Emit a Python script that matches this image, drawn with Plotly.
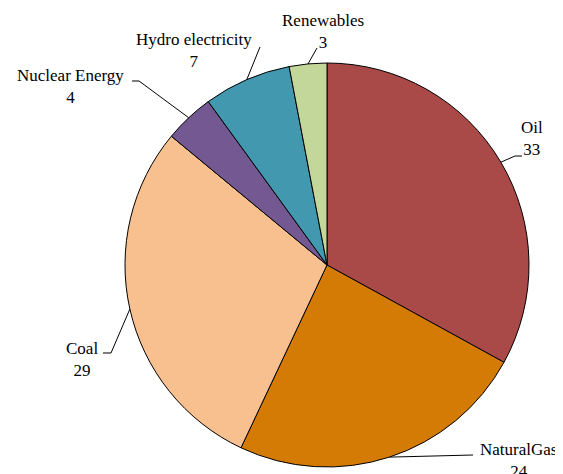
import math
import plotly.graph_objects as go

categories = ["Oil", "Natural Gas", "Coal", "Nuclear Energy", "Hydro electricity", "Renewables"]
values = [33, 24, 29, 4, 7, 3]
label_texts = ["Oil", "NaturalGas", "Coal", "Nuclear Energy", "Hydro electricity", "Renewables"]
colors = ["#A94A48", "#D47B05", "#F9C08F", "#735891", "#4298AF", "#C4D79B"]

OFF = 8                      # page body margin in the browser
W, H = 563 - OFF, 474 - OFF  # figure size
CX, CY, R = 327, 265, 202    # pie centre/radius in screenshot pixels

# label block centres (px) and leader elbows (px) -- layout styling
label_pos = [(532, 138), (518, 460), (82, 359), (70, 86), (194, 50), (323, 31)]
leader_pts = [
    [(515, 156), (522, 156)],
    [(473, 455)],
    [(111, 353), (103, 353)],
    [(139, 81), (132, 81)],
    [(260, 47)],
    [(317, 48)],
]

def px(x, y):
    return (x - OFF) / W, 1 - (y - OFF) / H

x0, y1 = px(CX - R, CY - R)
x1, y0 = px(CX + R, CY + R)

fig = go.Figure(go.Pie(
    labels=categories, values=values, sort=False, direction="clockwise", rotation=0,
    marker=dict(colors=colors, line=dict(color="black", width=1)),
    textinfo="none", hoverinfo="label+value", showlegend=False,
    domain=dict(x=[x0, x1], y=[y0, y1]),
))

total = sum(values)
cum = 0
shapes = []
annotations = []
for i, v in enumerate(values):
    mid = (cum + v / 2) / total * 2 * math.pi
    cum += v
    ax = CX + R * math.sin(mid)
    ay = CY - R * math.cos(mid)
    pts = [(ax, ay)] + leader_pts[i]
    path = "M " + " L ".join(f"{px(x, y)[0]:.5f},{px(x, y)[1]:.5f}" for x, y in pts)
    shapes.append(dict(type="path", xref="paper", yref="paper", path=path,
                       line=dict(color="black", width=1)))
    lx, ly = px(*label_pos[i])
    annotations.append(dict(x=lx, y=ly, xref="paper", yref="paper",
                            text=f"{label_texts[i]}<br>{v}", showarrow=False,
                            xanchor="center", yanchor="middle", align="center",
                            font=dict(family="Liberation Serif", size=17, color="black")))

fig.update_layout(width=W, height=H, margin=dict(l=0, r=0, t=0, b=0),
                  paper_bgcolor="white", plot_bgcolor="white",
                  shapes=shapes, annotations=annotations)
fig.write_html("out.html")
